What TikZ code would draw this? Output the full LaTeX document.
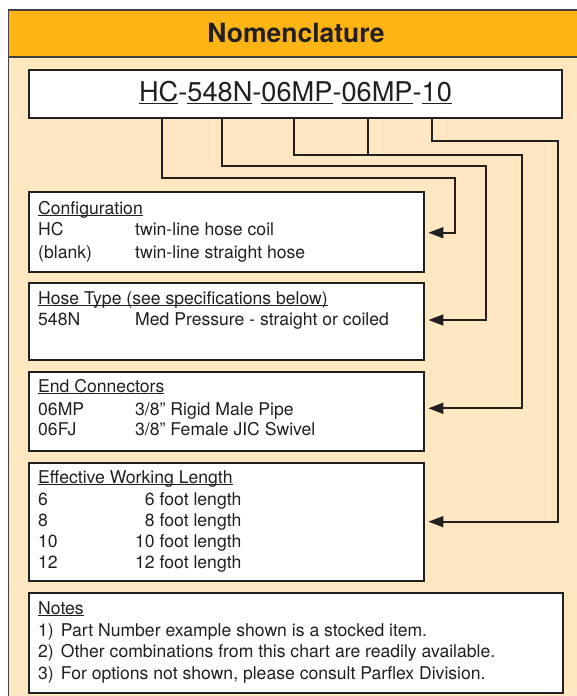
\documentclass[tikz,border=0pt]{standalone}
\usepackage{fontspec}
\setmainfont{TeX Gyre Heros}
\usetikzlibrary{arrows.meta}
\definecolor{hdr}{RGB}{253,181,21}
\definecolor{peach}{RGB}{255,231,194}
\definecolor{ink}{RGB}{35,31,32}
\newcommand\ulx[1]{\setbox0\hbox{#1}\rlap{\rule[-0.1em]{\wd0}{0.065em}}\box0}
\begin{document}
\begin{tikzpicture}[x=1pt,y=-1pt,
  box/.style={draw=ink, line width=1.8pt, fill=white, inner sep=0pt, rectangle},
  txt/.style={anchor=base west, inner sep=0pt, text=ink, font=\fontsize{17.6}{20}\selectfont},
  conn/.style={draw=ink, line width=1.7pt},
  arr/.style={conn, shorten >=3.5pt, -{Triangle[length=15pt,width=11pt]}},
  frame/.style={draw=ink!85, line width=1.6pt}
]
\useasboundingbox (0,0) rectangle (577,696);
\begin{scope}
  \clip (0,0) rectangle (577,696);
  \fill[peach] (8.5,57) rectangle (590,710);
  \draw[frame, fill=hdr] (8.5,10) rectangle (590,57);
  \draw[frame] (8.5,57) -- (8.5,710);
\end{scope}
\node[anchor=base, inner sep=0pt, text=ink, font=\fontsize{26.5}{30}\selectfont\bfseries] (title) at (296,42.3) {Nomenclature};

% part number
\node[box, minimum width=532.4pt, minimum height=48.3pt] (pn) at (295.5,94.15) {};
\node[anchor=base, inner sep=0pt, text=ink, font=\fontsize{27.2}{30}\selectfont] (pntext) at (295.5,101.7)
  {\ulx{HC}-\ulx{548N}-\ulx{06MP}-\ulx{06MP}-\ulx{10}};

% boxes
\node[box, minimum width=395pt, minimum height=79.4pt] (cfg) at (226.5,232) {};
\node[box, minimum width=395pt, minimum height=77.3pt] (hose) at (226.5,321.35) {};
\node[box, minimum width=395pt, minimum height=79pt] (endc) at (226.5,411.2) {};
\node[box, minimum width=395pt, minimum height=118pt] (eff) at (226.5,521.7) {};
\node[box, minimum width=534pt, minimum height=100.3pt] (notes) at (296,643.15) {};

% texts
\node[txt] (cfg0) at (38,214) {\ulx{Configuration}};
\node[txt] (cfg1) at (38,235.3) {\makebox[97pt][l]{HC}twin-line hose coil};
\node[txt] (cfg2) at (38,258.3) {\makebox[97pt][l]{(blank)}twin-line straight hose};

\node[txt] (hose0) at (38,304) {\ulx{Hose Type (see specifications below)}};
\node[txt] (hose1) at (38,325) {\makebox[97pt][l]{548N}Med Pressure - straight or coiled};

\node[txt] (endc0) at (38,392.7) {\ulx{End Connectors}};
\node[txt] (endc1) at (38,415) {\makebox[97pt][l]{06MP}3/8” Rigid Male Pipe};
\node[txt] (endc2) at (38,435.7) {\makebox[97pt][l]{06FJ}3/8” Female JIC Swivel};

\node[txt] (eff0) at (38,483.3) {\ulx{Effective Working Length}};
\node[txt] (eff1) at (38,505) {\makebox[97pt][l]{6}\phantom{1}6 foot length};
\node[txt] (eff2) at (38,526) {\makebox[97pt][l]{8}\phantom{1}8 foot length};
\node[txt] (eff3) at (38,547.3) {\makebox[97pt][l]{10}10 foot length};
\node[txt] (eff4) at (38,568.7) {\makebox[97pt][l]{12}12 foot length};

\node[txt] (notes0) at (38,614) {\ulx{Notes}};
\node[txt] (notes1) at (38,636) {\makebox[22.7pt][l]{1)}Part Number example shown is a stocked item.};
\node[txt] (notes2) at (38,657) {\makebox[22.7pt][l]{2)}Other combinations from this chart are readily available.};
\node[txt] (notes3) at (38,679) {\makebox[22.7pt][l]{3)}For options not shown, please consult Parflex Division.};

% connector coordinates
\coordinate (t1) at (162.3,178.3);
\coordinate (r1) at (454.7,232.7);
\coordinate (t2) at (222.3,166.3);
\coordinate (r2) at (486,320);
\coordinate (t3a) at (294,155);
\coordinate (t3b) at (368,155);
\coordinate (r3) at (522,408.3);
\coordinate (t4) at (432.3,141.3);
\coordinate (r4) at (558,521.7);

\draw[arr] (pn.south -| t1) -- (t1) -| (r1) -- (cfg.east |- r1);
\draw[arr] (pn.south -| t2) -- (t2) -| (r2) -- (hose.east |- r2);
\draw[arr] (pn.south -| t3a) -- (t3a) -| (r3) -- (endc.east |- r3);
\draw[conn] (pn.south -| t3b) -- (t3b);
\draw[arr] (pn.south -| t4) -- (t4) -| (r4) -- (eff.east |- r4);
\end{tikzpicture}
\end{document}
